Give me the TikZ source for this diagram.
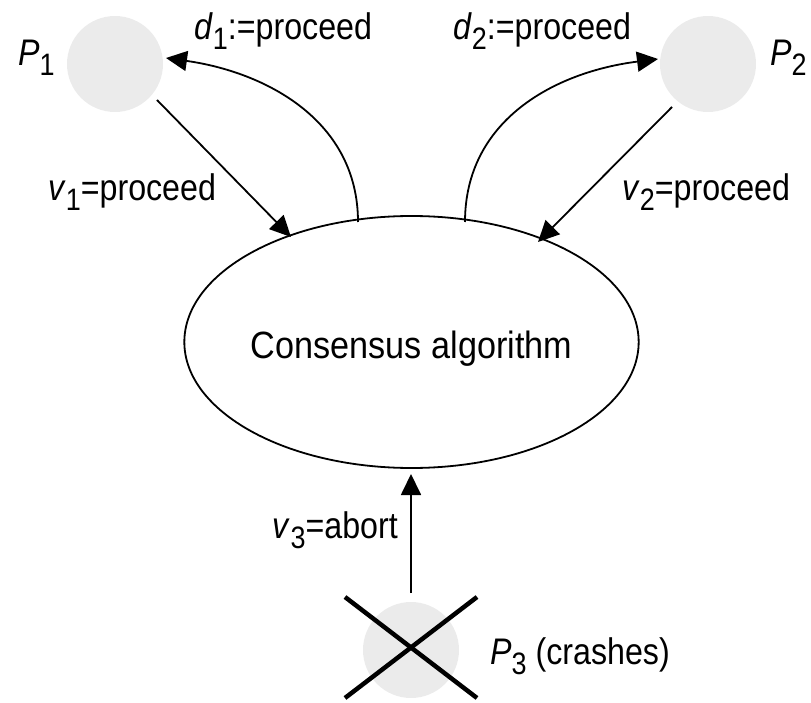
\documentclass[tikz,border=0pt]{standalone}
\usepackage{fontspec}
\setmainfont{Liberation Sans}
\newfontfamily\labfont[FakeStretch=0.87]{Liberation Sans}
\newfontfamily\algfont[FakeStretch=0.9]{Liberation Sans}
\usetikzlibrary{arrows.meta,shapes.geometric}
\newcommand\lsub[1]{\raisebox{-10pt}{\fontsize{31}{33}\selectfont #1}}
\begin{document}
\begin{tikzpicture}[x=1pt,y=-1pt,
  every node/.style={font=\labfont\fontsize{37}{42}\selectfont},
  proc/.style={circle,fill=procgray,minimum size=96pt,inner sep=0pt},
  lbl/.style={inner sep=0pt},
  conn/.style={line width=1.8pt,-{Triangle[length=21pt,width=20pt]}},
  cross/.style={line width=4.5pt}]
\definecolor{procgray}{HTML}{EBEBEB}
\useasboundingbox (0,0) rectangle (811,703);
\node[proc] (p1) at (115,64) {};
\node[proc] (p2) at (708,64) {};
\node[proc] (p3) at (411,650) {};
\node[ellipse,draw,line width=1.8pt,minimum width=377pt,minimum height=252pt,inner sep=0pt,
  font=\algfont\fontsize{38}{42}\selectfont,text height=40pt,text depth=8pt] (alg) at (411.5,342) {Consensus algorithm};
% crash mark
\coordinate (x1) at (345,597); \coordinate (x2) at (477,698);
\coordinate (x3) at (477,597); \coordinate (x4) at (345,698);
\draw[cross] (x1) -- (x2);
\draw[cross] (x3) -- (x4);
% free ends
\coordinate (t1) at (291,237);
\coordinate (t2) at (538,242);
\coordinate (t3) at (411,474);
\coordinate (s3) at (411,593);
\coordinate (s1) at (157,100);
\coordinate (s2) at (672,107);
\coordinate (c1) at (358,222);
\coordinate (c2) at (465,222);
\coordinate (e1) at (166,58);
\coordinate (e2) at (658,59);
\draw[conn] (s1) -- (t1);
\draw[conn] (s2) -- (t2);
\draw[conn] (s3) -- (t3);
\draw[conn] (c1) .. controls (358,120) and (265,72) .. (e1);
\draw[conn] (c2) .. controls (465,120) and (555,72) .. (e2);
% labels
\node[lbl,anchor=base west] (lp1) at (18,66) {\textit{P}\lsub{1}};
\node[lbl,anchor=base west] (lp2) at (770,66) {\textit{P}\lsub{2}};
\node[lbl,anchor=base west] (ld1) at (194,40) {\textit{d}\lsub{1}:=proceed};
\node[lbl,anchor=base west] (ld2) at (453,40) {\textit{d}\lsub{2}:=proceed};
\node[lbl,anchor=base west] (lv1) at (48,201) {\textit{v}\lsub{1}=proceed};
\node[lbl,anchor=base west] (lv2) at (622,201) {\textit{v}\lsub{2}=proceed};
\node[lbl,anchor=base east] (lv3) at (398,538) {\textit{v}\lsub{3}=abort};
\node[lbl,anchor=base west] (lp3) at (490,664) {\textit{P}\lsub{3} (crashes)};
\end{tikzpicture}
\end{document}
